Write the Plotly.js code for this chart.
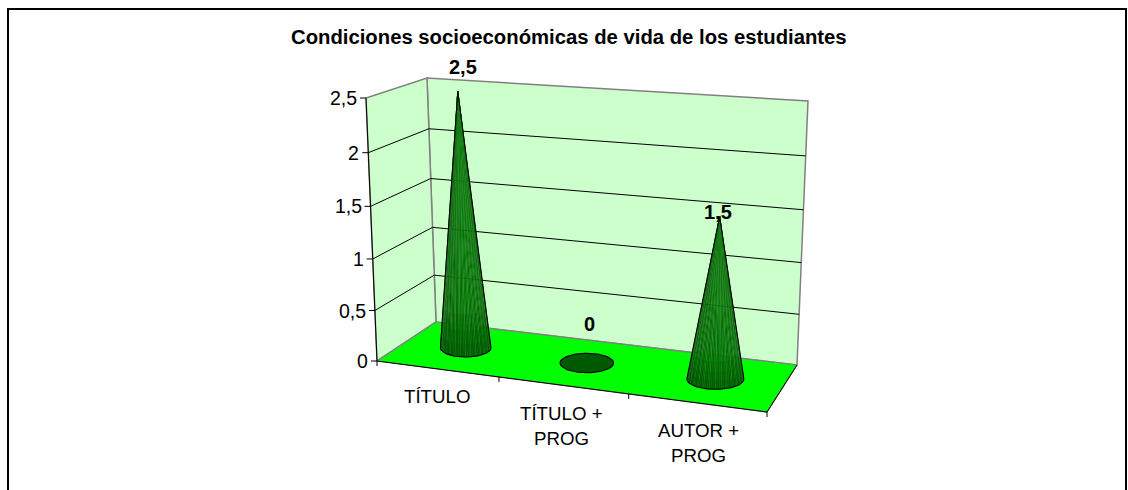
<!DOCTYPE html>
<html><head><meta charset="utf-8">
<script src="https://cdn.plot.ly/plotly-3.0.1.min.js"></script>
<style>html,body{margin:0;padding:0;background:#fff;overflow:hidden}</style>
</head><body><div id="chart" style="width:1128px;height:490px"></div>
<script>
const chartTitle = "Condiciones socioeconómicas de vida de los estudiantes";
const categories = ["TÍTULO", "TÍTULO +<br>PROG", "AUTOR +<br>PROG"];
const values = [2.5, 0, 1.5];
const valueLabels = ["2,5", "0", "1,5"];
const yTicks = [0, 0.5, 1, 1.5, 2, 2.5];
const yTickLabels = ["0", "0,5", "1", "1,5", "2", "2,5"];

const yMax = 2.5, nCat = categories.length;
// view of the 3-D box: pixel corners of floor and ceiling
const floorQuad = [[377,361],[767,412],[797,365],[436,322]];
const topQuad = [[366,98],[780,127],[808,101],[427,78]];
function homography(q){
  const [[x0,y0],[x1,y1],[x2,y2],[x3,y3]] = q;
  const dx1=x1-x2,dx2=x3-x2,sx=x0-x1+x2-x3,dy1=y1-y2,dy2=y3-y2,sy=y0-y1+y2-y3;
  const det=dx1*dy2-dx2*dy1, g=(sx*dy2-dx2*sy)/det, h=(dx1*sy-sx*dy1)/det;
  const a=x1-x0+g*x1,b=x3-x0+h*x3,d=y1-y0+g*y1,e=y3-y0+h*y3;
  return (u,v)=>{const w=g*u+h*v+1;return [(a*u+b*v+x0)/w,(d*u+e*v+y0)/w];};
}
const Hf=homography(floorQuad), Ht=homography(topQuad);
// c: category position 0..nCat, v: value, z: depth 0..1
function proj(c,v,z){
  const p=Hf(c/nCat,z), q=Ht(c/nCat,z), t=v/yMax;
  return [p[0]+(q[0]-p[0])*t, p[1]+(q[1]-p[1])*t];
}
// the axis scale is foreshortened a little by the perspective of the view
function wallValue(v){const t=v/yMax;return yMax*(t-0.05*t*(1-t));}
function poly(pts,fill,lineColor,lineWidth,closed){
  const xs=pts.map(p=>p[0]), ys=pts.map(p=>p[1]);
  if(closed!==false){xs.push(xs[0]);ys.push(ys[0]);}
  return {type:"scatter",mode:"lines",x:xs,y:ys,fill:fill?"toself":"none",fillcolor:fill||undefined,
    line:{color:lineColor||"rgba(0,0,0,0)",width:lineWidth||0.01,shape:"linear"},hoverinfo:"skip",showlegend:false};
}
const traces=[];
// walls and floor
traces.push(poly([proj(0,0,1),proj(nCat,0,1),proj(nCat,yMax,1),proj(0,yMax,1)],"#CCFFCC","#808080",1.5));
traces.push(poly([proj(0,0,0),proj(0,0,1),proj(0,yMax,1),proj(0,yMax,0)],"#CCFFCC","#808080",1.5));
traces.push(poly([proj(0,0,0),proj(nCat,0,0),proj(nCat,0,1),proj(0,0,1)],"#00FF00","#808080",1.2));
// gridlines
yTicks.forEach(t=>{ if(t>0 && t<yMax){
  const w=wallValue(t);
  traces.push(poly([proj(0,w,0),proj(0,w,1),proj(nCat,w,1)],null,"#000",1,false));
}});
// axes
traces.push(poly([proj(0,0,0),proj(0,yMax,0)],null,"#000",1,false));
traces.push(poly([proj(0,0,0),proj(nCat,0,0),proj(nCat,0,1)],null,"#000",1,false));
yTicks.forEach(t=>{const p=proj(0,wallValue(t),0);traces.push(poly([[p[0]-6,p[1]],p],null,"#000",1,false));});
for(let i=0;i<=nCat;i++){const p=proj(i,0,0);traces.push(poly([p,[p[0],p[1]+5]],null,"#000",1,false));}
// cones
const rU=0.215, flat=0.36, zC=0.5, N=44;
function mix(a,b,t){return a.map((v,i)=>Math.round(v+(b[i]-v)*t));}
const rgb=a=>"rgb("+a.join(",")+")";
values.forEach((val,i)=>{
  const c=i+0.5, base=proj(c,0,zC);
  const rx=(proj(c+rU,0,zC)[0]-proj(c-rU,0,zC)[0])/2, ry=rx*flat;
  const ring=[];
  for(let k=0;k<=N;k++){const t=Math.PI*k/N;ring.push([base[0]+rx*Math.cos(t),base[1]+ry*Math.sin(t)]);}
  if(val===0){
    const back=ring.slice(1,-1).map(p=>[p[0],2*base[1]-p[1]]).reverse();
    traces.push(poly(ring.concat(back),"#005A00","#000",1.2));return;
  }
  const apex=proj(c,val,zC);
  apex[0]+=1.5;
  for(let j=0;j<N;j++){
    const s=Math.abs((j+0.5)/N-0.45)*2;
    const col=mix([0,112,0],[0,80,0],Math.min(1,s*s));
    const isStripe=j%3===1;
    traces.push(poly([apex,ring[j],ring[j+1]],rgb(col),isStripe?rgb(mix(col,[150,215,150],0.36)):rgb(col),isStripe?0.6:0.3));
  }
  // soft darkening toward the foot
  [0.05,0.1,0.16].forEach(h=>{
    const foot=ring.map(p=>[p[0]+(apex[0]-p[0])*h,p[1]+(apex[1]-p[1])*h]);
    traces.push(poly(ring.concat(foot.slice().reverse()),"rgba(0,60,0,0.12)",null,0));
  });
  traces.push(poly(ring.concat([apex]),null,"#000",1.1));
});
// text
const Font="'Liberation Sans', Arial, sans-serif";
const anns=[];
function label(x,y,text,size,bold,anchor){
  anns.push({x:x,y:y,xref:"x",yref:"y",text:bold?"<b>"+text+"</b>":text,showarrow:false,
    font:{family:Font,size:size,color:"#000"},xanchor:anchor||"center",yanchor:"middle",align:"center"});
}
label(568.5,37,chartTitle,20.3,true);
yTicks.forEach((t,i)=>{const p=proj(0,wallValue(t),0);label(p[0]-7,p[1],yTickLabels[i],19.5,false,"right");});
categories.forEach((c,i)=>{
  const p=proj(i+0.5,0,0);
  c.split("<br>").forEach((ln,j)=>label(p[0]+[0,-1,2][i],p[1]+[28,28,28][i]+j*25,ln,18.7,false));
});
values.forEach((v,i)=>{const p=proj(i+0.5,v,zC);label(p[0]+[7,3,0][i],p[1]-[24,39,5][i],valueLabels[i],20,true);});

Plotly.newPlot("chart",traces,{
  width:1128,height:490,margin:{l:0,r:0,t:0,b:0},paper_bgcolor:"#fff",plot_bgcolor:"#fff",showlegend:false,
  xaxis:{range:[0,1128],visible:false,fixedrange:true},
  yaxis:{range:[490,0],visible:false,fixedrange:true},
  annotations:anns,
  shapes:[{type:"rect",xref:"x",yref:"y",x0:8,y0:9,x1:1126,y1:500,line:{color:"#000",width:2},layer:"above"}]
},{displayModeBar:false,staticPlot:true});
</script></body></html>
